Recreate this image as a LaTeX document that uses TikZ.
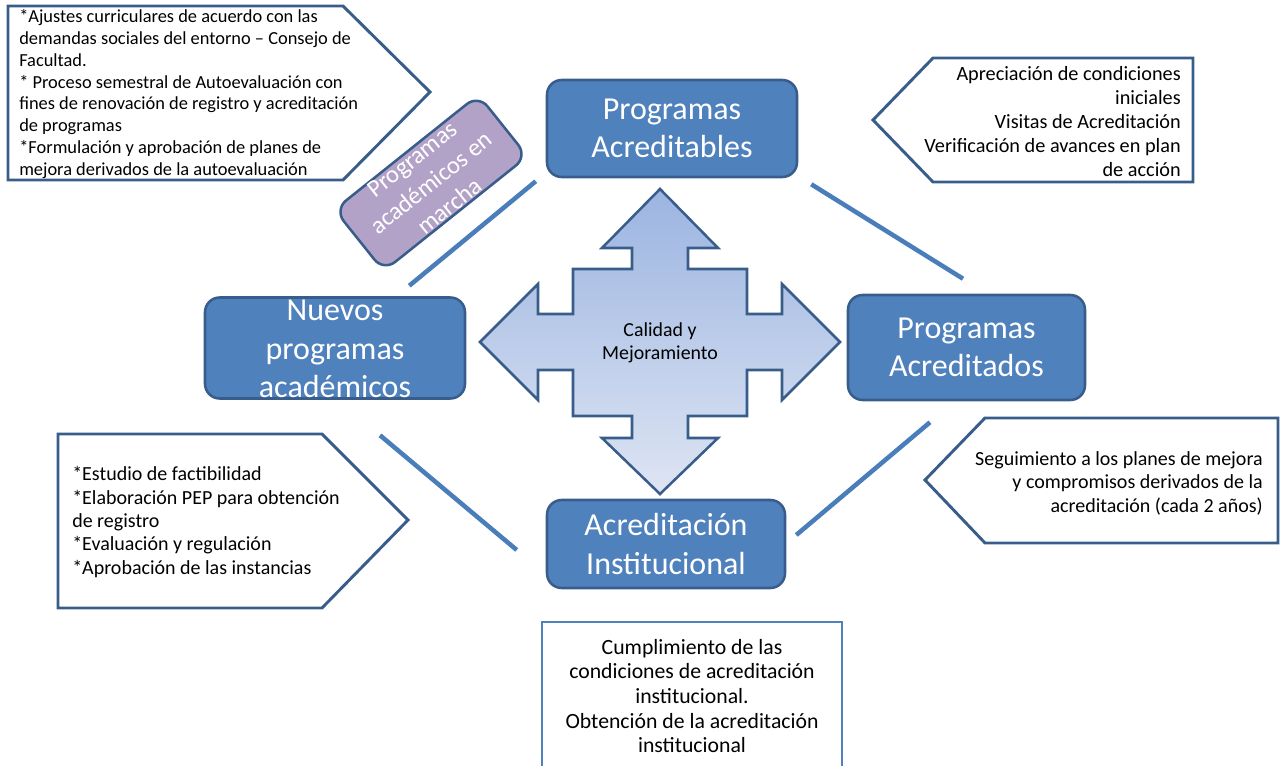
\documentclass[tikz,border=0pt]{standalone}
\usepackage{fontspec}
\setmainfont{Carlito}
\definecolor{cajaAzul}{HTML}{4F81BD}
\definecolor{bordeAzul}{HTML}{385D8A}
\definecolor{lineaAzul}{HTML}{4A7EBB}
\definecolor{lila}{HTML}{B3A2C7}
\definecolor{cruzArriba}{HTML}{9BB4E1}
\definecolor{cruzAbajo}{HTML}{DEE5F3}
\tikzset{
  caja/.style={draw=bordeAzul, fill=cajaAzul, line width=1.9pt, rounded corners=11pt,
    text=white, align=center, inner sep=0pt, font=\fontsize{24}{29}\selectfont},
  cajatexto/.style={text=white, align=center, inner sep=0pt},
  nota/.style={draw=bordeAzul, line width=2.2pt},
  notatexto/.style={inner sep=0pt, text=black},
  enlace/.style={draw=lineaAzul, line width=3.4pt},
  cruz/.style={draw=bordeAzul, line width=1.9pt, top color=cruzArriba, bottom color=cruzAbajo}
}
\begin{document}
\begin{tikzpicture}[x=0.75pt, y=-0.75pt]
    \useasboundingbox (0,0) rectangle (1281,766);

    % notas
    \draw[nota] (8,6) -- (343,6) -- (430,92) -- (343,180) -- (8,180) -- cycle;
    \node[notatexto, anchor=west, align=left, font=\fontsize{13.8}{16.3}\selectfont] (notaMarcha) at (19,94)
        {*Ajustes curriculares de acuerdo con las\\demandas sociales del entorno – Consejo de\\Facultad.\\* Proceso semestral de Autoevaluación con\\fines de renovación de registro y acreditación\\de programas\\*Formulación y aprobación de planes de\\mejora derivados de la autoevaluación};
    \draw[nota] (873,120) -- (933,58) -- (1193,58) -- (1193,182) -- (933,182) -- cycle;
    \node[notatexto, anchor=east, align=right, font=\fontsize{15.2}{18}\selectfont] (notaAcreditables) at (1181,122)
        {Apreciación de condiciones\\iniciales\\Visitas de Acreditación\\Verificación de avances en plan\\de acción};
    \draw[nota] (58,434) -- (322,434) -- (408,520) -- (322,608) -- (58,608) -- cycle;
    \node[notatexto, anchor=west, align=left, font=\fontsize{15}{17.6}\selectfont] (notaNuevos) at (72,522)
        {*Estudio de factibilidad\\*Elaboración PEP para obtención\\de registro\\*Evaluación y regulación\\*Aprobación de las instancias};
    \draw[nota] (925,480) -- (985,418) -- (1278,418) -- (1278,543) -- (985,543) -- cycle;
    \node[notatexto, anchor=east, align=right, font=\fontsize{15}{17.6}\selectfont] (notaAcreditados) at (1263,483)
        {Seguimiento a los planes de mejora\\y compromisos derivados de la\\acreditación (cada 2 años)};
    \draw[nota, draw=cajaAzul] (542,622) rectangle (842,780);
    \node[notatexto, align=center, font=\fontsize{16.3}{18.4}\selectfont] (notaInstitucional) at (692,696)
        {Cumplimiento de las\\condiciones de acreditación\\institucional.\\Obtención de la acreditación\\institucional};

    % cruz central
    \begin{scope}[shift={(660,342)}]
        \filldraw[cruz] (0,-153) -- (58,-94) -- (28,-94) -- (28,-73) -- (87,-73) -- (87,-28)
            -- (122,-28) -- (122,-58) -- (180,0) -- (122,58) -- (122,28) -- (87,28) -- (87,74)
            -- (28,74) -- (28,96) -- (58,96) -- (0,152) -- (-58,96) -- (-28,96) -- (-28,74)
            -- (-87,74) -- (-87,28) -- (-122,28) -- (-122,58) -- (-180,0) -- (-122,-58)
            -- (-122,-28) -- (-87,-28) -- (-87,-73) -- (-28,-73) -- (-28,-94) -- (-58,-94) -- cycle;
    \end{scope}
    \node[notatexto, align=center, font=\fontsize{14.9}{17.3}\selectfont] (calidad) at (660,343) {Calidad y\\Mejoramiento};

    % cajas
    \node[caja, minimum width=187.5pt, minimum height=72.75pt] (acreditables) at (672,128.5) {Programas\\Acreditables};
    \node[caja, minimum width=195pt, minimum height=75.75pt] (nuevos) at (335,348) {};
    \node[cajatexto, font=\fontsize{24}{29}\selectfont] (nuevosTexto) at (335,349) {Nuevos\\programas\\académicos};
    \node[caja, minimum width=177.75pt, minimum height=78.75pt] (acreditados) at (966.5,347.5) {Programas\\Acreditados};
    \node[caja, minimum width=178.5pt, minimum height=66pt] (institucional) at (666,544) {Acreditación\\Institucional};
    \node[caja, fill=lila, rotate=38.6, minimum width=138pt, minimum height=59pt] (marcha) at (431,183) {};
    \node[cajatexto, rotate=38.6, font=\fontsize{18.5}{22.5}\selectfont] (marchaTexto) at (marcha) {Programas\\académicos en\\marcha};

    % enlaces
    \draw[enlace] ([shift={(-57,-10.5)}]nuevos.north east) -- ([shift={(-10,3)}]acreditables.south west);
    \draw[enlace] ([shift={(13,6)}]acreditables.south east) -- ([shift={(-3.5,-15)}]acreditados.north);
    \draw[enlace] ([shift={(-36.5,21)}]acreditados.south) -- ([shift={(10,-9)}]institucional.east);
    \draw[enlace] ([shift={(45,35.5)}]nuevos.south) -- ([shift={(-29,6)}]institucional.west);
\end{tikzpicture}
\end{document}
